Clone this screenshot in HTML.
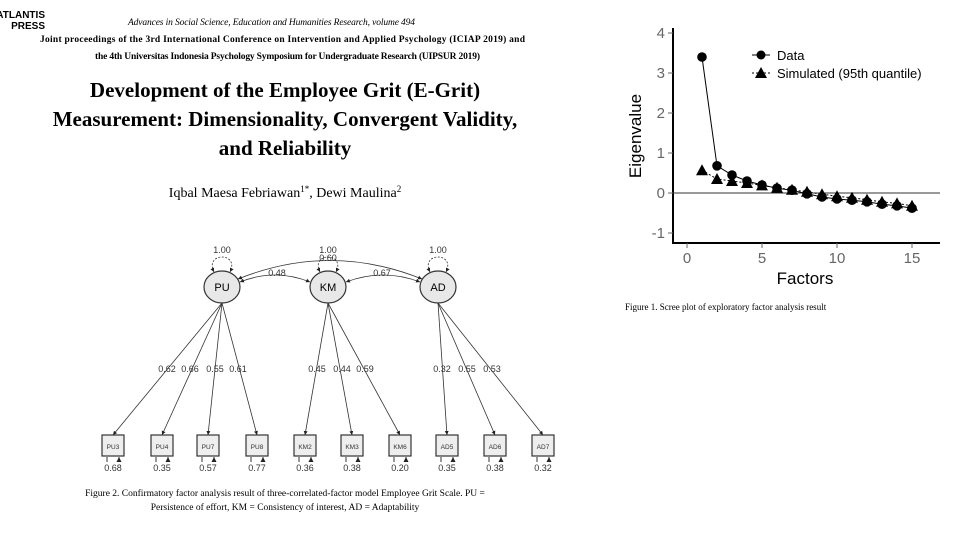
<!DOCTYPE html>
<html><head><meta charset="utf-8"><style>
html,body{margin:0;padding:0;background:#fff;}
svg{display:block;}
.serif{font-family:"Liberation Serif",serif;}
.sans{font-family:"Liberation Sans",sans-serif;}
</style></head><body>
<svg id="root" width="960" height="540" viewBox="0 0 960 540" xmlns="http://www.w3.org/2000/svg">
<defs>
<marker id="ar" viewBox="0 0 10 10" refX="10" refY="5" markerWidth="5" markerHeight="5" orient="auto-start-reverse"><path d="M0,0L10,5L0,10z" fill="#222"/></marker>
</defs>
<g>
<text class="sans" x="45" y="18" font-size="10" font-weight="bold" text-anchor="end">ATLANTIS</text>
<text class="sans" x="45" y="29" font-size="10" font-weight="bold" text-anchor="end">PRESS</text>
<text class="serif" x="128" y="25" font-size="9.5" font-style="italic" textLength="287">Advances in Social Science, Education and Humanities Research, volume 494</text>
<text class="serif" x="40" y="42" font-size="9.5" font-weight="bold" textLength="485">Joint proceedings of the 3rd International Conference on Intervention and Applied Psychology (ICIAP 2019) and</text>
<text class="serif" x="95" y="59" font-size="9.5" font-weight="bold" textLength="385">the 4th Universitas Indonesia Psychology Symposium for Undergraduate Research (UIPSUR 2019)</text>
</g>
<g class="serif" font-weight="bold" font-size="21" text-anchor="middle">
<text x="285" y="97">Development of the Employee Grit (E-Grit)</text>
<text x="285" y="126">Measurement: Dimensionality, Convergent Validity,</text>
<text x="285" y="155">and Reliability</text>
</g>
<text class="serif" x="285" y="197" font-size="14" text-anchor="middle">Iqbal Maesa Febriawan<tspan font-size="9" dy="-5">1*</tspan><tspan dy="5">, Dewi Maulina</tspan><tspan font-size="9" dy="-5">2</tspan></text>

<g id="sem"></g>

<g class="serif" font-size="9.5" text-anchor="middle">
<text x="285" y="496">Figure 2. Confirmatory factor analysis result of three-correlated-factor model Employee Grit Scale. PU =</text>
<text x="285" y="510">Persistence of effort, KM = Consistency of interest, AD = Adaptability</text>
</g>

<g id="scree"></g>
<text class="serif" x="625" y="310" font-size="9">Figure 1. Scree plot of exploratory factor analysis result</text>
</svg>
<script>
const factors = [1,2,3,4,5,6,7,8,9,10,11,12,13,14,15];
const dataEigen = [3.4,0.68,0.45,0.3,0.2,0.12,0.07,-0.02,-0.1,-0.15,-0.18,-0.22,-0.28,-0.32,-0.38];
const simEigen = [0.57,0.35,0.3,0.25,0.19,0.13,0.08,0.03,-0.03,-0.08,-0.12,-0.17,-0.22,-0.26,-0.32];
const yTicks = [-1,0,1,2,3,4];
const xTicks = [0,5,10,15];

const NS="http://www.w3.org/2000/svg";
function mk(tag, attrs, parent, txt){const e=document.createElementNS(NS,tag);for(const k in attrs)e.setAttribute(k,attrs[k]);if(txt!==undefined)e.textContent=txt;parent.appendChild(e);return e;}

// scree plot
const sg=document.getElementById('scree');
const xS=v=>687+v*15, yS=v=>193-v*40;
const ax=mk('path',{d:'M673,28V243H940',fill:'none',stroke:'#000','stroke-width':2},sg);


const zl=mk('line',{x1:673,x2:940,y1:yS(0),y2:yS(0),stroke:'#333','stroke-width':1},sg);


yTicks.forEach(t=>{
  mk('line',{x1:668,x2:673,y1:yS(t),y2:yS(t),stroke:'#666'},sg);
  const l=mk('text',{x:665,y:yS(t)+5,'font-size':15,fill:'#666','text-anchor':'end',class:'sans'},sg,String(t));
  
  
});
xTicks.forEach(t=>{
  mk('line',{x1:xS(t),x2:xS(t),y1:243,y2:248,stroke:'#666'},sg);
  const l=mk('text',{x:xS(t),y:263,'font-size':15,fill:'#666','text-anchor':'middle',class:'sans'},sg,String(t));
  
  
});
const yt=mk('text',{x:0,y:0,transform:'translate(641,136) rotate(-90)','font-size':17,'text-anchor':'middle',class:'sans'},sg,'Eigenvalue');


const xt=mk('text',{x:805,y:284,'font-size':17,'text-anchor':'middle',class:'sans'},sg,'Factors');


const simLine=mk('polyline',{points:factors.map((f,i)=>xS(f)+','+yS(simEigen[i])).join(' '),fill:'none',stroke:'#000','stroke-dasharray':'2,2'},sg);


const dLine=mk('polyline',{points:factors.map((f,i)=>xS(f)+','+yS(dataEigen[i])).join(' '),fill:'none',stroke:'#000'},sg);


function tri(x,y){return `${x},${y-6} ${x-6},${y+5} ${x+6},${y+5}`;}
factors.forEach((f,i)=>{
  const t=mk('polygon',{points:tri(xS(f),yS(simEigen[i])),fill:'#000'},sg);
  
  
  const c=mk('circle',{cx:xS(f),cy:yS(dataEigen[i]),r:4.8,fill:'#000'},sg);
  
  
});
const lg=mk('g',{},sg);


mk('line',{x1:752,x2:770,y1:55,y2:55,stroke:'#000'},lg);
mk('circle',{cx:761,cy:55,r:4.5},lg);
mk('text',{x:777,y:60,'font-size':13,class:'sans'},lg,'Data');
mk('line',{x1:752,x2:770,y1:73,y2:73,stroke:'#000','stroke-dasharray':'2,2'},lg);
mk('polygon',{points:tri(761,73)},lg);
mk('text',{x:777,y:78,'font-size':13,class:'sans'},lg,'Simulated (95th quantile)');

// SEM diagram
const g=document.getElementById('sem');
const lat=[{n:'PU',x:222},{n:'KM',x:328},{n:'AD',x:438}];
const ly=287;
const obs=[['PU3',113,0,'0.62','0.68',167],['PU4',162,0,'0.66','0.35',190],['PU7',208,0,'0.55','0.57',215],['PU8',257,0,'0.61','0.77',238],
['KM2',305,1,'0.45','0.36',317],['KM3',352,1,'0.44','0.38',342],['KM6',400,1,'0.59','0.20',365],
['AD5',447,2,'0.32','0.35',442],['AD6',495,2,'0.55','0.38',467],['AD7',543,2,'0.53','0.32',492]];
const fs={class:'sans','font-size':9,fill:'#333','text-anchor':'middle'};
obs.forEach(o=>{
  const L=lat[o[2]];
  mk('line',{x1:L.x,y1:ly+16,x2:o[1],y2:435,stroke:'#333','stroke-width':0.8,'marker-end':'url(#ar)'},g);
  mk('text',Object.assign({x:o[5],y:372},fs),g,o[3]);
  const r=mk('rect',{x:o[1]-11,y:435,width:22,height:21,fill:'#eee',stroke:'#333','stroke-width':1.2},g);
  
  
  mk('text',{x:o[1],y:449,'font-size':6.5,'text-anchor':'middle',class:'sans',fill:'#333'},g,o[0]);
  mk('path',{d:`M${o[1]-6},462 V457 M${o[1]+6},462 V457`,stroke:'#333','stroke-width':1,'marker-end':'url(#ar)'},g);
  mk('text',Object.assign({x:o[1],y:471},fs),g,o[4]);
});
mk('path',{d:`M240,282 Q275,268 310,282`,fill:'none',stroke:'#333','stroke-width':0.8,'marker-end':'url(#ar)','marker-start':'url(#ar)'},g);
mk('path',{d:`M346,282 Q383,268 420,282`,fill:'none',stroke:'#333','stroke-width':0.8,'marker-end':'url(#ar)','marker-start':'url(#ar)'},g);
mk('path',{d:`M238,279 Q330,242 422,279`,fill:'none',stroke:'#333','stroke-width':0.8,'marker-end':'url(#ar)','marker-start':'url(#ar)'},g);
mk('text',Object.assign({x:277,y:276},fs),g,'0.48');
mk('text',Object.assign({x:382,y:276},fs),g,'0.67');
mk('text',Object.assign({x:328,y:261},fs),g,'0.60');
lat.forEach(L=>{
  mk('path',{d:`M${L.x-8},${ly-15} C${L.x-18},${ly-35} ${L.x+18},${ly-35} ${L.x+8},${ly-15}`,fill:'none',stroke:'#333','stroke-width':0.8,'stroke-dasharray':'2,1.5','marker-end':'url(#ar)','marker-start':'url(#ar)'},g);
  mk('text',Object.assign({x:L.x,y:253},fs),g,'1.00');
  const e=mk('ellipse',{cx:L.x,cy:ly,rx:18,ry:16,fill:'#e8e8e8',stroke:'#333','stroke-width':1.2},g);
  
  
  mk('text',{x:L.x,y:ly+4,'font-size':11,'text-anchor':'middle',class:'sans'},g,L.n);
});
</script>
</body></html>
